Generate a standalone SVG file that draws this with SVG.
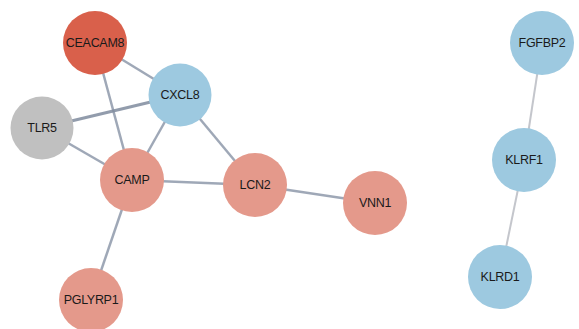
<svg xmlns="http://www.w3.org/2000/svg" width="579" height="329" viewBox="0 0 579 329">
<style>
.e{stroke:#8e99aa;stroke-width:2.5;stroke-opacity:0.85;fill:none}
.e2{stroke:#c4c6cc;stroke-width:2;fill:none}
.n{stroke:none}
.t{font-family:"Liberation Sans",Arial,sans-serif;font-size:12.5px;fill:#1a1a1a;text-anchor:middle;dominant-baseline:central;letter-spacing:-0.3px}
</style>
<rect width="579" height="329" fill="#fff"/>
<g id="edges">
<line class="e" x1="95" y1="43" x2="180" y2="95"/>
<line class="e" x1="95" y1="43" x2="132" y2="180"/>
<line class="e" x1="42" y1="128" x2="180" y2="95" style="stroke-width:3.2;stroke:#7f8b9d"/>
<line class="e" x1="42" y1="128" x2="132" y2="180"/>
<line class="e" x1="180" y1="95" x2="132" y2="180"/>
<line class="e" x1="180" y1="95" x2="255" y2="185"/>
<line class="e" x1="132" y1="180" x2="255" y2="185"/>
<line class="e" x1="255" y1="185" x2="375" y2="203"/>
<line class="e" x1="132" y1="180" x2="91" y2="300"/>
<line class="e2" x1="542" y1="43" x2="524" y2="160"/>
<line class="e2" x1="524" y1="160" x2="500" y2="277"/>
</g>
<g id="CEACAM8"><circle class="n" cx="95" cy="43" r="32" fill="#d9604b"/><text class="t" x="95" y="43">CEACAM8</text></g>
<g id="CXCL8"><circle class="n" cx="180" cy="95" r="31.5" fill="#9dc9e0"/><text class="t" x="180" y="95">CXCL8</text></g>
<g id="TLR5"><circle class="n" cx="42" cy="128" r="31.5" fill="#c0c0c0"/><text class="t" x="42" y="128">TLR5</text></g>
<g id="CAMP"><circle class="n" cx="132" cy="180" r="32" fill="#e4998b"/><text class="t" x="132" y="180">CAMP</text></g>
<g id="LCN2"><circle class="n" cx="255" cy="185" r="32" fill="#e4998b"/><text class="t" x="255" y="185">LCN2</text></g>
<g id="VNN1"><circle class="n" cx="375" cy="203" r="32" fill="#e4998b"/><text class="t" x="375" y="203">VNN1</text></g>
<g id="PGLYRP1"><circle class="n" cx="91" cy="300" r="32" fill="#e4998b"/><text class="t" x="91" y="300">PGLYRP1</text></g>
<g id="FGFBP2"><circle class="n" cx="542" cy="43" r="32" fill="#9dc9e0"/><text class="t" x="542" y="43">FGFBP2</text></g>
<g id="KLRF1"><circle class="n" cx="524" cy="160" r="32" fill="#9dc9e0"/><text class="t" x="524" y="160">KLRF1</text></g>
<g id="KLRD1"><circle class="n" cx="500" cy="277" r="32" fill="#9dc9e0"/><text class="t" x="500" y="277">KLRD1</text></g>
</svg>
